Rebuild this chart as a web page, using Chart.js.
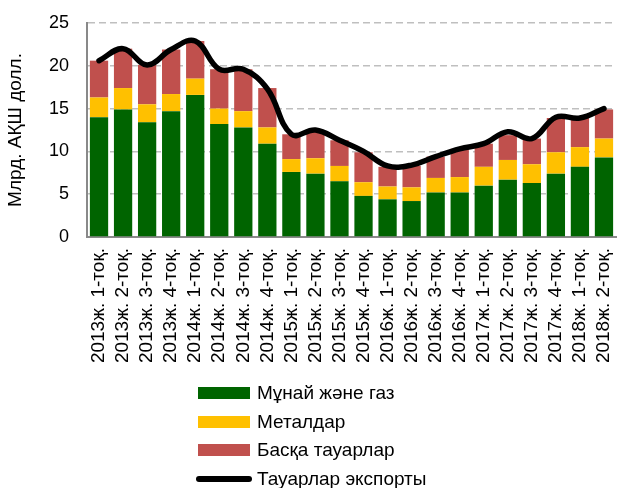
<!DOCTYPE html>
<html>
<head>
<meta charset="utf-8">
<script src="https://cdn.jsdelivr.net/npm/chart.js@4/dist/chart.umd.min.js"></script>
<style>
  body { margin: 0; background: #fff; }
  #wrap { position: relative; width: 618px; height: 488px; overflow: hidden; }
  #box { position: absolute; left: 0; top: 0; width: 618px; height: 380px; }
  #legend { position: absolute; left: 196px; top: 379px; font-family: "Liberation Sans", Arial, sans-serif; font-size: 19px; color: #000; }
  .item { display: flex; align-items: center; height: 28.5px; }
  .sw { width: 52px; height: 12px; margin: 0 7px 0 2px; }
  .ln { width: 56px; height: 6px; border-radius: 3px; margin-right: 5px; }
</style>
</head>
<body>
<div id="wrap">
  <div id="box"><canvas id="chart"></canvas></div>
  <div id="legend"></div>
</div>
<script>
// quarters
const categories = [
  "2013ж. 1-тоқ.", "2013ж. 2-тоқ.", "2013ж. 3-тоқ.", "2013ж. 4-тоқ.",
  "2014ж. 1-тоқ.", "2014ж. 2-тоқ.", "2014ж. 3-тоқ.", "2014ж. 4-тоқ.",
  "2015ж. 1-тоқ.", "2015ж. 2-тоқ.", "2015ж. 3-тоқ.", "2015ж. 4-тоқ.",
  "2016ж. 1-тоқ.", "2016ж. 2-тоқ.", "2016ж. 3-тоқ.", "2016ж. 4-тоқ.",
  "2017ж. 1-тоқ.", "2017ж. 2-тоқ.", "2017ж. 3-тоқ.", "2017ж. 4-тоқ.",
  "2018ж. 1-тоқ.", "2018ж. 2-тоқ."
];

const oilGas = [14.0, 14.9, 13.4, 14.7, 16.6, 13.2, 12.8, 10.9, 7.6, 7.4, 6.5, 4.8, 4.4, 4.2, 5.2, 5.2, 6.0, 6.7, 6.3, 7.4, 8.2, 9.3];
const metals = [2.3, 2.5, 2.1, 2.0, 1.9, 1.8, 1.9, 1.9, 1.5, 1.8, 1.8, 1.6, 1.5, 1.6, 1.7, 1.8, 2.2, 2.3, 2.2, 2.5, 2.3, 2.2];
const otherGoods = [4.3, 4.6, 4.6, 5.2, 4.4, 4.6, 4.9, 4.6, 2.9, 3.1, 3.0, 3.5, 2.3, 2.5, 2.5, 3.3, 2.7, 2.9, 3.0, 4.0, 3.4, 3.4];
const goodsExport = [20.6, 22.0, 20.1, 21.9, 22.9, 19.6, 19.6, 17.3, 12.0, 12.5, 11.3, 10.0, 8.3, 8.4, 9.4, 10.3, 10.9, 12.3, 11.5, 14.0, 13.9, 15.0];

const yTicks = [0, 5, 10, 15, 20, 25];

const font = "'Liberation Sans', Arial, sans-serif";

const chart = new Chart(document.getElementById("chart"), {
  type: "bar",
  data: {
    labels: categories,
    datasets: [
      { label: "Тауарлар экспорты", type: "line", data: goodsExport, stack: "exp",
        borderColor: "#000", borderWidth: 5.5, tension: 0.4, pointRadius: 0, order: 0,
        borderCapStyle: "round", fill: false },
      { label: "Мұнай және газ", data: oilGas, backgroundColor: "#006400", stack: "s", order: 1 },
      { label: "Металдар", data: metals, backgroundColor: "#FFC000", stack: "s", order: 1 },
      { label: "Басқа тауарлар", data: otherGoods, backgroundColor: "#C0504D", stack: "s", order: 1 }
    ]
  },
  options: {
    responsive: true,
    maintainAspectRatio: false,
    animation: false,
    layout: { padding: { top: 23, right: 2, left: 0, bottom: 0 } },
    datasets: { bar: { barPercentage: 0.76, categoryPercentage: 1 } },
    scales: {
      x: {
        stacked: true,
        grid: { display: false, drawTicks: false },
        border: { color: "#898989", width: 2 },
        ticks: { minRotation: 90, maxRotation: 90, autoSkip: false, padding: 11, color: "#000",
          font: { family: font, size: 19 } },
        afterFit: (s) => { s.height = 143; s.paddingLeft = 0; s.paddingRight = 0; }
      },
      y: {
        stacked: true,
        min: 0, max: 25,
        afterBuildTicks: (s) => { s.ticks = yTicks.map((v) => ({ value: v })); },
        grid: { color: "#BFBFBF", lineWidth: 1.5, drawTicks: false },
        border: { color: "#898989", width: 2, dash: [7, 4] },
        ticks: { padding: 18, color: "#000", font: { family: font, size: 18 } },
        title: { display: true, text: "Млрд. АҚШ долл.", color: "#000",
          font: { family: font, size: 19 }, padding: { bottom: 4 } },
        afterFit: (s) => { s.width = 87; s.paddingTop = 0; s.paddingBottom = 0; }
      }
    },
    plugins: { legend: { display: false }, tooltip: { enabled: false } }
  }
});

// legend built from the chart's datasets
const legendEl = document.getElementById("legend");
[1, 2, 3, 0].forEach((i) => {
  const ds = chart.data.datasets[i];
  const row = document.createElement("div");
  row.className = "item";
  const mark = document.createElement("span");
  if (ds.type === "line") {
    mark.className = "ln";
    mark.style.background = ds.borderColor;
  } else {
    mark.className = "sw";
    mark.style.background = ds.backgroundColor;
  }
  row.appendChild(mark);
  row.appendChild(document.createTextNode(ds.label));
  legendEl.appendChild(row);
});
</script>
</body>
</html>
